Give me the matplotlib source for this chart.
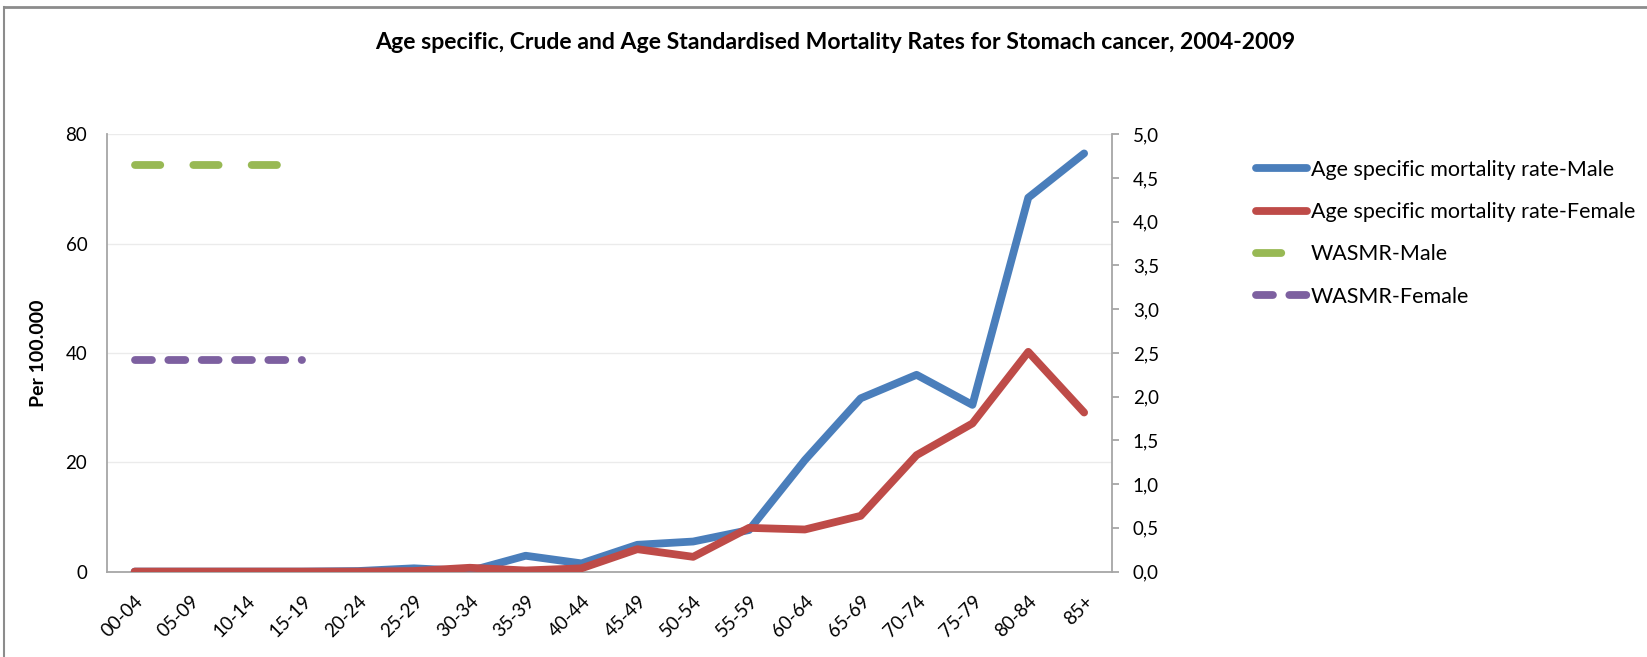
import matplotlib
matplotlib.use("Agg")
import matplotlib.pyplot as plt
from matplotlib.lines import Line2D

plt.rcParams['font.family'] = ['Lato', 'DejaVu Sans']
plt.rcParams['lines.scale_dashes'] = False

# Data
age_groups = ['00-04', '05-09', '10-14', '15-19', '20-24', '25-29', '30-34', '35-39', '40-44',
              '45-49', '50-54', '55-59', '60-64', '65-69', '70-74', '75-79', '80-84', '85+']
male_rate = [0, 0, 0, 0, 0.1, 0.6, 0.1, 2.9, 1.5, 4.9, 5.5, 7.6, 20.4, 31.7, 36.0, 30.5, 68.4, 76.5]
female_rate = [0, 0, 0, 0, 0, 0.1, 0.7, 0.2, 0.6, 4.1, 2.7, 8.0, 7.7, 10.2, 21.3, 27.1, 40.2, 29.1]
# WASMR series (secondary axis), only filled for the first four age groups
wasmr_male = [4.65, 4.65, 4.65, 4.65]
wasmr_female = [2.42, 2.42, 2.42, 2.42]

c_blue = '#4A7EBB'
c_red = '#BE4B48'
c_green = '#98B954'
c_purple = '#7D60A0'
c_axis = '#A6A6A6'

fig = plt.figure(figsize=(16.47, 6.57), dpi=100)
ax = fig.add_axes([0.0648, 0.130, 0.6104, 0.6656])
ax2 = ax.twinx()

x = list(range(len(age_groups)))
lw = 5.6
l1, = ax.plot(x, male_rate, color=c_blue, lw=lw, solid_capstyle='round', solid_joinstyle='round',
              label='Age specific mortality rate-Male', zorder=3)
l2, = ax.plot(x, female_rate, color=c_red, lw=lw, solid_capstyle='round', solid_joinstyle='round',
              label='Age specific mortality rate-Female', zorder=4)
l3, = ax2.plot(x[:len(wasmr_male)], wasmr_male, color=c_green, lw=lw, dashes=(18.2, 23.8),
               dash_capstyle='round', label='WASMR-Male')
l4, = ax2.plot(x[:len(wasmr_female)], wasmr_female, color=c_purple, lw=lw, dashes=(12.2, 11.8),
               dash_capstyle='round', label='WASMR-Female')

ax.set_xlim(-0.5, 17.5)
ax.set_ylim(0, 80)
ax2.set_ylim(0, 5)
ax.set_yticks([0, 20, 40, 60, 80])
ax2.set_yticks([i * 0.5 for i in range(11)])
ax2.set_yticklabels([f'{i * 0.5:.1f}'.replace('.', ',') for i in range(11)])
ax.set_xticks(x)
ax.set_xticklabels(age_groups, rotation=45, ha='right', va='top', rotation_mode='anchor')

ax.grid(axis='y', color='#EBEBEB', lw=1)
ax.set_axisbelow(True)
for a in (ax, ax2):
    a.spines['top'].set_visible(False)
    for s in ('left', 'right', 'bottom'):
        a.spines[s].set_color(c_axis)
        a.spines[s].set_linewidth(1.3)
ax.spines['right'].set_visible(False)
ax2.spines['left'].set_visible(False)
ax2.spines['bottom'].set_visible(False)

ax.tick_params(axis='y', length=0, pad=14, labelsize=13.5)
ax.tick_params(axis='x', length=0, pad=15, labelsize=13.5)
ax2.tick_params(axis='y', length=5, width=1.3, color=c_axis, pad=10, labelsize=13.5)

ax.set_ylabel('Per 100.000', fontsize=14, fontweight='bold', labelpad=13)
fig.suptitle('Age specific, Crude and Age Standardised Mortality Rates for Stomach cancer, 2004-2009',
             x=0.507, y=0.936, va='center', fontsize=16.6, fontweight='bold')

fig.legend(handles=[l1, l2, l3, l4], loc='upper left', bbox_to_anchor=(0.7624, 0.757),
           frameon=False, fontsize=15.5, handlelength=2.4, handletextpad=0.15,
           labelspacing=1.04, borderpad=0, borderaxespad=0)

# chart border (top and left edges visible)
fig.add_artist(Line2D([0.0027, 1], [0.9886, 0.9886], transform=fig.transFigure, color='#8C8C8C', lw=2))
fig.add_artist(Line2D([0.0027, 0.0027], [0, 0.9886], transform=fig.transFigure, color='#8C8C8C', lw=1.5))

fig.savefig('out.png', dpi=100)
